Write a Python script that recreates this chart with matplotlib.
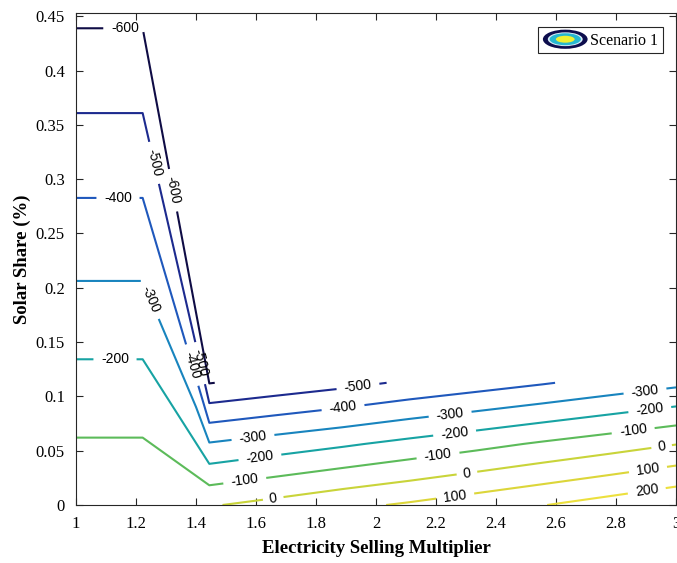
import numpy as np
import matplotlib
matplotlib.use('Agg')
import matplotlib.pyplot as plt
from matplotlib.patches import Ellipse
from matplotlib.legend_handler import HandlerBase
from matplotlib.lines import Line2D
from matplotlib.ticker import FormatStrFormatter

# grid columns: selling multiplier and the largest feasible solar share there
sell_mult = [1.0, 1.2222, 1.4444, 1.6667, 1.8889, 2.1111, 2.3333, 2.5556, 2.7778, 3.0]
share_max = [0.453, 0.453, 0.1125, 0.1125, 0.1125, 0.1125, 0.1125, 0.1125, 0.1125, 0.1125]

# objective value along each column: at zero share, half of share_max, share_max
z_low = [-14, -14, -8, 32.5, 75.6, 113, 155, 197, 241.5, 287.5]
z_mid = [-328, -328, -293, -253, -214, -172, -131, -87.5, -46.5, -3]
z_high = [-618, -618, -603, -566, -529, -485, -447, -408, -365, -324]

levels = [-600, -500, -400, -300, -200, -100, 0, 100, 200]
level_colors = ['#0f0c45', '#1c2a8e', '#1f58bc', '#1884be', '#17a3a3',
                '#5cbb5a', '#c9d43a', '#dcd63a', '#ece03e']

frac = np.array([0.0, 0.5, 1.0])
X = np.tile(np.array(sell_mult), (3, 1))
Y = np.outer(frac, np.array(share_max))
Z = np.array([z_low, z_mid, z_high])


class ContourIcon(HandlerBase):
	def create_artists(self, legend, orig_handle, xdescent, ydescent, width, height, fontsize, trans):
		cx = width / 2 - xdescent
		cy = height / 2 - ydescent
		rings = [
			(1.0, 1.25, '#0d0d4d'),
			(0.78, 0.9, '#d8ecf8'),
			(0.7, 0.78, '#25b7d0'),
			(0.42, 0.45, '#eef032'),
		]
		out = []
		for fw, fh, col in rings:
			e = Ellipse((cx, cy), width * fw, height * fh, facecolor=col,
						edgecolor='none', transform=trans)
			out.append(e)
		return out


fig = plt.figure(figsize=(6.77, 5.63), dpi=100)
ax = fig.add_axes([76 / 677, 58 / 563, 600 / 677, 492 / 563])

cs = ax.contour(X, Y, Z, levels=levels, colors=level_colors, linewidths=1.5)

label_spots = [
	(1.163, 0.4389), (1.323, 0.2898),
	(1.260, 0.315), (1.4135, 0.1306), (1.94, 0.1089),
	(1.14, 0.2827), (1.387, 0.1288), (1.89, 0.0899),
	(1.247, 0.1895), (1.59, 0.062), (2.247, 0.0837), (2.897, 0.104),
	(1.13, 0.1342), (1.613, 0.044), (2.263, 0.064), (2.913, 0.087),
	(1.563, 0.0215), (2.207, 0.045), (2.857, 0.069),
	(1.657, 0.007), (2.303, 0.0297), (2.953, 0.052),
	(2.263, 0.010), (2.907, 0.032),
	(2.903, 0.0123),
]
ax.clabel(cs, manual=label_spots, inline=True, inline_spacing=6, fmt='%d',
		  colors='k', fontsize=10)
for t in cs.labelTexts:
	t.set_family('Liberation Sans')

ax.set_xlim(1, 3)
ax.set_ylim(0, 0.453)
ax.set_xticks(np.arange(1, 3.01, 0.2))
ax.set_yticks(np.arange(0, 0.451, 0.05))
ax.xaxis.set_major_formatter(FormatStrFormatter('%g'))
ax.yaxis.set_major_formatter(FormatStrFormatter('%g'))
ax.tick_params(direction='in', top=True, right=True, length=5, width=0.8,
			   colors='#262626', labelsize=12, pad=8)
for lab in ax.get_xticklabels() + ax.get_yticklabels():
	lab.set_family('Liberation Serif')
	lab.set_color('black')
for sp in ax.spines.values():
	sp.set_color('#262626')
	sp.set_linewidth(0.8)

ax.set_xlabel('Electricity Selling Multiplier', family='Liberation Serif',
			  fontweight='bold', fontsize=13.5, labelpad=6)
ax.set_ylabel('Solar Share (%)', family='Liberation Serif',
			  fontweight='bold', fontsize=13.5, labelpad=3)

proxy = Line2D([], [])
lgd = ax.legend([proxy], ['Scenario 1'], handler_map={Line2D: ContourIcon()},
				loc='upper right', bbox_to_anchor=(0.978, 0.972),
				prop={'family': 'Liberation Serif', 'size': 11.5},
				handlelength=2.8, handleheight=1.1, handletextpad=0.15,
				borderpad=0.3, borderaxespad=0, fancybox=False, framealpha=1)
lgd.get_frame().set_edgecolor('#262626')
lgd.get_frame().set_linewidth(0.8)

fig.savefig('out.png', dpi=100)
